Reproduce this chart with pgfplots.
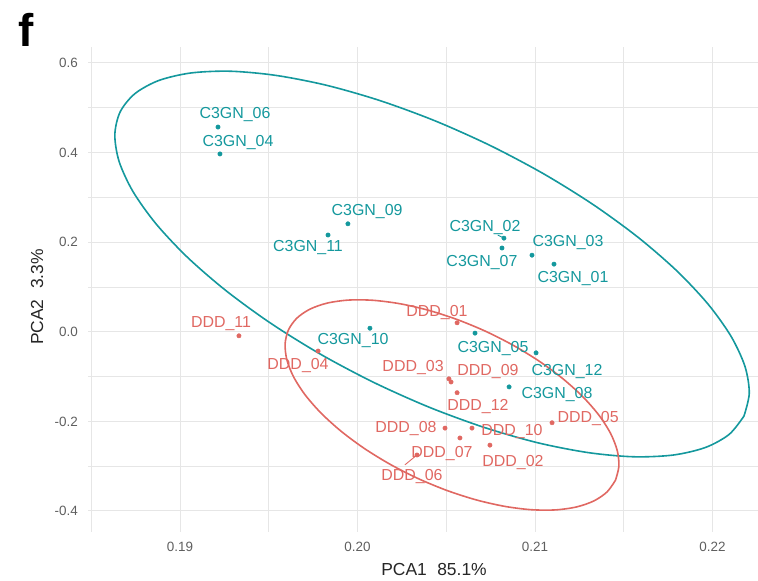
\documentclass[border=0pt]{standalone}
\usepackage{fontspec}
\setmainfont{Liberation Sans}
\usepackage{pgfplots}
\pgfplotsset{compat=1.18}
\definecolor{cteal}{RGB}{20,152,157}
\definecolor{cred}{RGB}{224,104,98}
\definecolor{gridc}{RGB}{230,230,230}
\definecolor{tickc}{RGB}{95,95,95}
\begin{document}
\begin{tikzpicture}
\path[use as bounding box] (0bp,0bp) rectangle (758bp,581bp);
\begin{axis}[
 at={(88bp,49bp)}, anchor=south west,
 scale only axis, width=670bp, height=485bp,
 xmin=0.184817, xmax=0.222563, ymin=-0.4469, ymax=0.6357,
 xtick={0.19,0.20,0.21,0.22}, xticklabels={0.19,0.20,0.21,0.22},
 ytick={-0.4,-0.2,0,0.2,0.4,0.6}, yticklabels={-0.4,-0.2,0.0,0.2,0.4,0.6},
 minor xtick={0.185,0.195,0.205,0.215},
 minor ytick={-0.3,-0.1,0.1,0.3,0.5},
 grid=both,
 major grid style={draw=gridc, line width=1bp},
 minor grid style={draw=gridc, line width=0.6bp},
 axis line style={draw=none},
 major tick length=0pt, minor tick length=0pt,
 tick style={draw=none},
 ticklabel style={font=\fontsize{13.5}{15}\selectfont, text=tickc},
 xticklabel style={anchor=center, yshift=-15bp},
 yticklabel style={anchor=east, inner sep=0pt, xshift=-10bp},
 clip=false,
]
% ellipses
\addplot[cteal, line width=1.6bp, smooth] coordinates {
(0.221772,-0.1882)(0.222071,-0.1370)(0.221827,-0.0771)(0.221047,-0.0103)
(0.219756,0.0614)(0.217992,0.1359)(0.215809,0.2108)(0.213273,0.2840)
(0.210460,0.3532)(0.207460,0.4161)(0.204360,0.4710)(0.201253,0.5162)
(0.198237,0.5504)(0.195402,0.5723)(0.192836,0.5816)(0.190613,0.5777)
(0.188803,0.5609)(0.187461,0.5316)(0.186628,0.4908)(0.186329,0.4396)
(0.186573,0.3797)(0.187353,0.3129)(0.188644,0.2412)(0.190408,0.1667)
(0.192591,0.0918)(0.195127,0.0186)(0.197940,-0.0506)(0.200940,-0.1135)
(0.204040,-0.1684)(0.207147,-0.2136)(0.210163,-0.2478)(0.212998,-0.2697)
(0.215564,-0.2790)(0.217787,-0.2751)(0.219597,-0.2583)(0.220939,-0.2290)
(0.221772,-0.1882)};
\addplot[cred, line width=1.6bp, smooth] coordinates {
(0.214535,-0.33126)(0.214726,-0.30019)(0.214632,-0.26496)(0.214255,-0.22664)
(0.213606,-0.18639)(0.212706,-0.14548)(0.211581,-0.10508)(0.210266,-0.06645)
(0.208801,-0.03078)(0.207231,0.00086)(0.205603,0.02750)(0.203966,0.04837)
(0.202369,0.06278)(0.200864,0.07032)(0.199494,0.07077)(0.198301,0.06410)
(0.197320,0.05052)(0.196584,0.03043)(0.196113,0.00446)(0.195922,-0.02661)
(0.196016,-0.06184)(0.196393,-0.10016)(0.197042,-0.14041)(0.197942,-0.18132)
(0.199067,-0.22172)(0.200382,-0.26035)(0.201847,-0.29602)(0.203417,-0.32766)
(0.205045,-0.35430)(0.206682,-0.37517)(0.208279,-0.38958)(0.209784,-0.39712)
(0.211154,-0.39757)(0.212347,-0.39090)(0.213328,-0.37732)(0.214064,-0.35723)
(0.214535,-0.33126)};
% label segments
\addplot[cred, line width=0.9bp] coordinates {(0.20267,-0.297)(0.20335,-0.275)};
\addplot[cteal, line width=0.9bp] coordinates {(0.20790,0.216)(0.20825,0.209)};
% points
\addplot[only marks, mark=*, mark size=2.2bp, color=cteal] coordinates {
(0.19214,0.457)(0.19225,0.397)(0.19946,0.241)(0.19834,0.216)
(0.20825,0.209)(0.20814,0.187)(0.20983,0.171)(0.21107,0.151)
(0.20070,0.008)(0.20662,-0.003)(0.21006,-0.047)(0.20854,-0.123)};
\addplot[only marks, mark=*, mark size=2.2bp, color=cred] coordinates {
(0.19332,-0.009)(0.19778,-0.043)(0.20561,0.020)(0.20515,-0.105)
(0.20527,-0.112)(0.20561,-0.136)(0.20493,-0.215)(0.20645,-0.215)
(0.20577,-0.237)(0.20746,-0.253)(0.21096,-0.203)(0.20335,-0.275)};
% labels
\begin{scope}[every node/.style={font=\fontsize{16}{18}\selectfont, inner sep=0pt}]
\node[text=cteal] at (axis cs:0.19310,0.4839) {C3GN\_06};
\node[text=cteal] at (axis cs:0.19327,0.4214) {C3GN\_04};
\node[text=cteal] at (axis cs:0.20054,0.2674) {C3GN\_09};
\node[text=cteal] at (axis cs:0.19721,0.1871) {C3GN\_11};
\node[text=cteal] at (axis cs:0.20718,0.2317) {C3GN\_02};
\node[text=cteal] at (axis cs:0.20701,0.1536) {C3GN\_07};
\node[text=cteal] at (axis cs:0.21186,0.1982) {C3GN\_03};
\node[text=cteal] at (axis cs:0.21214,0.1179) {C3GN\_01};
\node[text=cteal] at (axis cs:0.19975,-0.0201) {C3GN\_10};
\node[text=cteal] at (axis cs:0.20763,-0.0379) {C3GN\_05};
\node[text=cteal] at (axis cs:0.21180,-0.0893) {C3GN\_12};
\node[text=cteal] at (axis cs:0.21124,-0.1406) {C3GN\_08};
\node[text=cred] at (axis cs:0.19231,0.0174) {DDD\_11};
\node[text=cred] at (axis cs:0.19665,-0.0763) {DDD\_04};
\node[text=cred] at (axis cs:0.20448,0.0420) {DDD\_01};
\node[text=cred] at (axis cs:0.20313,-0.0808) {DDD\_03};
\node[text=cred] at (axis cs:0.20735,-0.0897) {DDD\_09};
\node[text=cred] at (axis cs:0.20679,-0.1679) {DDD\_12};
\node[text=cred] at (axis cs:0.20273,-0.2170) {DDD\_08};
\node[text=cred] at (axis cs:0.20870,-0.2237) {DDD\_10};
\node[text=cred] at (axis cs:0.20476,-0.2710) {DDD\_07};
\node[text=cred] at (axis cs:0.20876,-0.2911) {DDD\_02};
\node[text=cred] at (axis cs:0.21299,-0.1929) {DDD\_05};
\node[text=cred] at (axis cs:0.20307,-0.3241) {DDD\_06};
\end{scope}
\end{axis}
\node[font=\fontsize{17.5}{19}\selectfont, text=black!85] at (434bp,12bp) {PCA1\hspace{0.6em}85.1\%};
\node[font=\fontsize{17.5}{19}\selectfont, text=black!85, rotate=90] at (37bp,284bp) {PCA2\hspace{0.6em}3.3\%};
\node[font=\bfseries\fontsize{46}{50}\selectfont] at (26bp,551bp) {f};
\end{tikzpicture}
\end{document}
